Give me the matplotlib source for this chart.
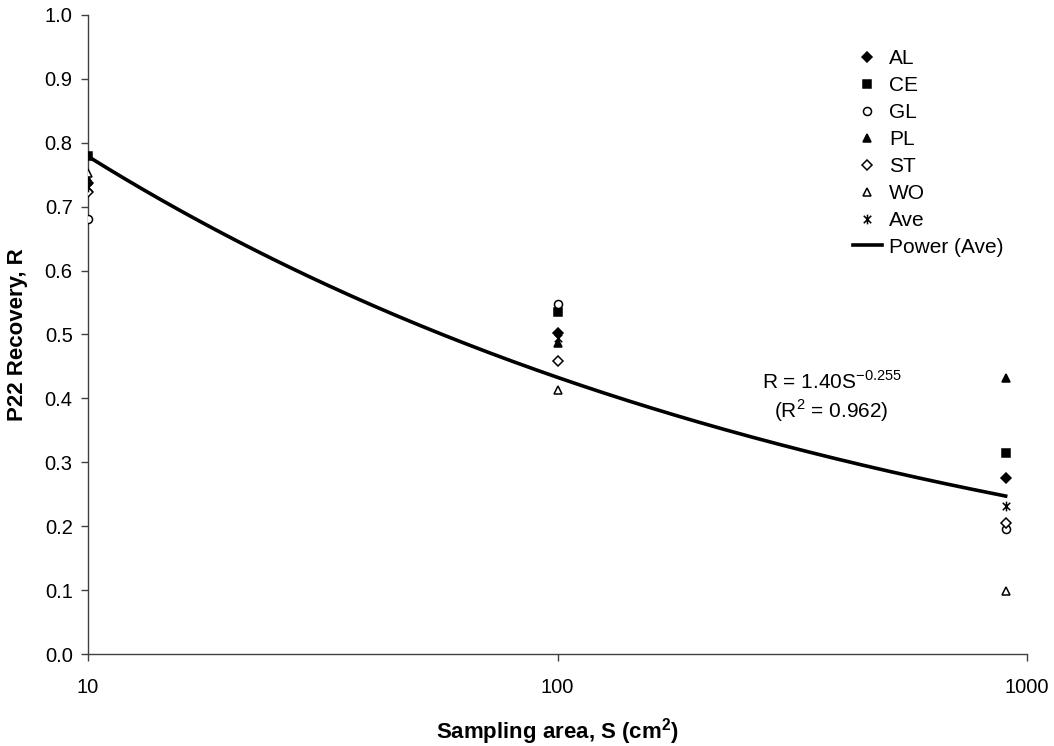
import numpy as np
import matplotlib
matplotlib.use('Agg')
import matplotlib.pyplot as plt
from matplotlib.path import Path
from matplotlib.ticker import FixedLocator, NullLocator, FormatStrFormatter

plt.rcParams['font.family'] = ['Liberation Sans', 'DejaVu Sans']
plt.rcParams['mathtext.fontset'] = 'custom'
plt.rcParams['mathtext.rm'] = 'Liberation Sans'
plt.rcParams['mathtext.bf'] = 'Liberation Sans:bold'
plt.rcParams['axes.unicode_minus'] = False

# sampling areas (cm2)
areas = [10, 100, 900]

# recovery per surface
AL = [0.737, 0.502, 0.275]
CE = [0.779, 0.535, 0.315]
GL = [0.681, 0.548, 0.195]
PL = [0.743, 0.486, 0.432]
ST = [0.723, 0.459, 0.205]
WO = [0.753, 0.413, 0.099]
Ave = [0.730, 0.494, 0.231]

# Excel-style star marker: x with a vertical bar
star = Path([(-1, -1), (1, 1), (-1, 1), (1, -1), (0, -1.3), (0, 1.3)],
            [Path.MOVETO, Path.LINETO, Path.MOVETO, Path.LINETO, Path.MOVETO, Path.LINETO])

series = [
    ('AL', AL, dict(marker='D', mfc='black', ms=5.0)),
    ('CE', CE, dict(marker='s', mfc='black', ms=5.8)),
    ('GL', GL, dict(marker='o', mfc='white', ms=5.8)),
    ('PL', PL, dict(marker='^', mfc='black', ms=6.4)),
    ('ST', ST, dict(marker='D', mfc='white', ms=5.0)),
    ('WO', WO, dict(marker='^', mfc='white', ms=6.4)),
    ('Ave', Ave, dict(marker=star, mfc='black', ms=7.0)),
]

fig = plt.figure(figsize=(10.54, 7.46), dpi=100)
ax = fig.add_axes([0.0835, 0.1233, 0.891, 0.8567])

for name, vals, kw in series:
    ax.plot(areas, vals, linestyle='none', color='black', mec='black', mew=1.1,
            label=name, zorder=3, **kw)

# power trendline fitted to the average
b, log_a = np.polyfit(np.log(areas), np.log(Ave), 1)
a = np.exp(log_a)
s = np.logspace(np.log10(areas[0]), np.log10(areas[-1]), 200)
ax.plot(s, a * s ** b, color='black', lw=2.6, label='Power (Ave)', zorder=2)

ax.set_xscale('log')
ax.set_xlim(10, 1000)
ax.set_ylim(0, 1.0)
ax.xaxis.set_major_locator(FixedLocator([10, 100, 1000]))
ax.xaxis.set_minor_locator(NullLocator())
ax.xaxis.set_major_formatter(FormatStrFormatter('%d'))
ax.set_yticks(np.arange(0, 1.01, 0.1))
ax.yaxis.set_major_formatter(FormatStrFormatter('%.1f'))

for side in ['top', 'right']:
    ax.spines[side].set_visible(False)
for side in ['left', 'bottom']:
    ax.spines[side].set_color('#404040')
    ax.spines[side].set_linewidth(1.0)
ax.tick_params(direction='out', length=5, width=1.0, color='#404040', labelsize=14.5)
ax.tick_params(axis='x', pad=12)
ax.tick_params(axis='y', pad=6)

ax.set_xlabel('Sampling area, S (cm$^\\mathbf{2}$)', fontsize=16, fontweight='bold', labelpad=14)
ax.set_ylabel('P22 Recovery, R', fontsize=16, fontweight='bold', labelpad=12)

# trendline equation
fig.text(0.789, 0.488, 'R = 1.40S$^{-0.255}$', ha='center', va='center', fontsize=15)
fig.text(0.789, 0.450, '(R$^2$ = 0.962)', ha='center', va='center', fontsize=15)

ax.legend(loc='upper left', bbox_to_anchor=(0.801, 0.945), bbox_transform=fig.transFigure,
          frameon=False, fontsize=15, handlelength=1.4, handletextpad=0.35,
          labelspacing=0.38, borderaxespad=0)

fig.savefig('out.png', dpi=100)
